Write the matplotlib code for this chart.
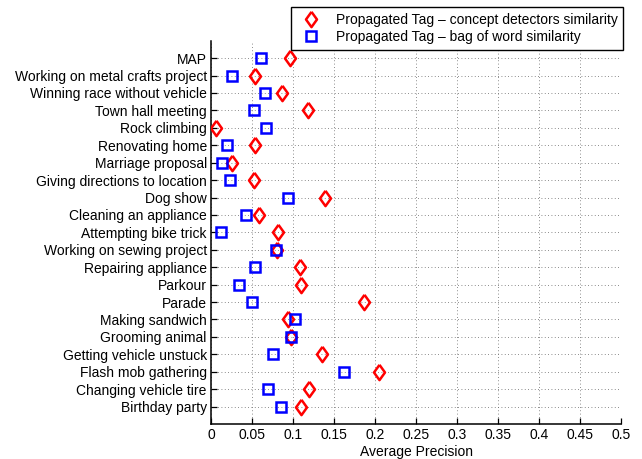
import numpy as np
import matplotlib.pyplot as plt

plt.rcParams['font.family'] = ['Liberation Sans', 'DejaVu Sans']

# categories listed from top to bottom
categories = ['MAP', 'Working on metal crafts project', 'Winning race without vehicle',
              'Town hall meeting', 'Rock climbing', 'Renovating home', 'Marriage proposal',
              'Giving directions to location', 'Dog show', 'Cleaning an appliance',
              'Attempting bike trick', 'Working on sewing project', 'Repairing appliance',
              'Parkour', 'Parade', 'Making sandwich', 'Grooming animal',
              'Getting vehicle unstuck', 'Flash mob gathering', 'Changing vehicle tire',
              'Birthday party']
concept_ap = [0.096, 0.054, 0.086, 0.118, 0.006, 0.054, 0.026, 0.052, 0.139, 0.059,
              0.082, 0.081, 0.108, 0.110, 0.186, 0.094, 0.097, 0.135, 0.205, 0.120,
              0.110]
bow_ap = [0.061, 0.025, 0.066, 0.052, 0.067, 0.019, 0.013, 0.023, 0.094, 0.043,
          0.012, 0.079, 0.054, 0.034, 0.050, 0.102, 0.098, 0.076, 0.162, 0.070,
          0.085]
xticks = [0, 0.05, 0.1, 0.15, 0.2, 0.25, 0.3, 0.35, 0.4, 0.45, 0.5]
xticklabels = ['0', '0.05', '0.1', '0.15', '0.2', '0.25', '0.3', '0.35', '0.4', '0.45', '0.5']

n = len(categories)
ypos = np.arange(n, 0, -1)

# matlab-like diamond, a bit taller than wide
diamond = [(0, 1), (0.72, 0), (0, -1), (-0.72, 0), (0, 1)]

fig = plt.figure(figsize=(6.42, 4.59), dpi=100)
ax = fig.add_axes([0.3287, 0.0763, 0.6386, 0.835])

ax.plot(concept_ap, ypos, marker=diamond, color='red', markerfacecolor='none',
        markeredgewidth=1.8, markersize=11, linestyle='none',
        label='Propagated Tag \u2013 concept detectors similarity', zorder=3)
ax.plot(bow_ap, ypos, 's', color='blue', markerfacecolor='none',
        markeredgewidth=1.8, markersize=6.5, linestyle='none',
        label='Propagated Tag \u2013 bag of word similarity', zorder=3)

ax.set_xlim(0, 0.5)
ax.set_ylim(0, n + 1)
ax.set_xticks(xticks)
ax.set_xticklabels(xticklabels, fontsize=10)
ax.set_yticks(ypos)
ax.set_yticklabels(categories, fontsize=10)
ax.set_xlabel('Average Precision', fontsize=10, labelpad=2)

ax.grid(True, linestyle=(0, (1, 3)), color='#666666', linewidth=0.6)
ax.set_axisbelow(True)
ax.tick_params(direction='in', length=4, width=0.9, colors='black', pad=3)
ax.spines['top'].set_visible(False)
ax.spines['right'].set_visible(False)
for s in ['left', 'bottom']:
    ax.spines[s].set_linewidth(1.1)

leg = fig.legend(loc='upper right', bbox_to_anchor=(0.9704, 0.9847), borderaxespad=0,
                 fontsize=10, handlelength=2.0, handletextpad=0.8, borderpad=0.4,
                 labelspacing=0.25, fancybox=False, framealpha=1)
leg.get_frame().set_edgecolor('black')
leg.get_frame().set_linewidth(1.0)

plt.savefig('out.png', dpi=100)
